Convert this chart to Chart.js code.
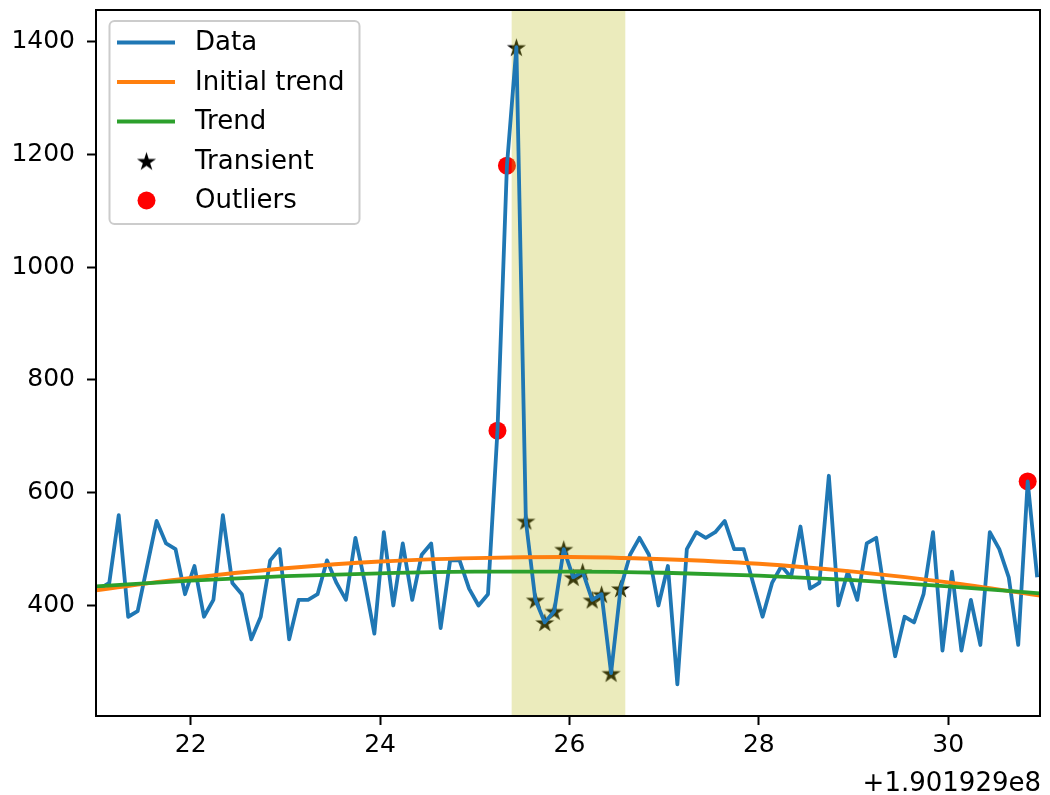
<!DOCTYPE html>
<html>
<head>
<meta charset="utf-8">
<script src="https://cdn.jsdelivr.net/npm/chart.js@4"></script>
<style>
  html, body { margin: 0; padding: 0; background: #fff; overflow: hidden; }
  #wrap { width: 1050px; height: 795px; position: relative; }
</style>
</head>
<body>
<div id="wrap"><canvas id="chart"></canvas></div>
<script>
'use strict';

// Time offsets (s) relative to 1.901929e8
const times = [
  21.04, 21.14, 21.24, 21.34, 21.44, 21.54, 21.64, 21.74, 21.84, 21.94,
  22.04, 22.14, 22.24, 22.34, 22.44, 22.54, 22.64, 22.74, 22.84, 22.94,
  23.04, 23.14, 23.24, 23.34, 23.44, 23.54, 23.64, 23.74, 23.84, 23.94,
  24.04, 24.14, 24.24, 24.34, 24.44, 24.54, 24.64, 24.74, 24.84, 24.94,
  25.04, 25.14, 25.24, 25.34, 25.44, 25.54, 25.64, 25.74, 25.84, 25.94,
  26.04, 26.14, 26.24, 26.34, 26.44, 26.54, 26.64, 26.74, 26.84, 26.94,
  27.04, 27.14, 27.24, 27.34, 27.44, 27.54, 27.64, 27.74, 27.84, 27.94,
  28.04, 28.14, 28.24, 28.34, 28.44, 28.54, 28.64, 28.74, 28.84, 28.94,
  29.04, 29.14, 29.24, 29.34, 29.44, 29.54, 29.64, 29.74, 29.84, 29.94,
  30.04, 30.14, 30.24, 30.34, 30.44, 30.54, 30.64, 30.74, 30.84, 30.94
];

const counts = [
  430, 440, 560, 380, 390, 470, 550, 510, 500, 420,
  470, 380, 410, 560, 440, 420, 340, 380, 480, 500,
  340, 410, 410, 420, 480, 440, 410, 520, 440, 350,
  530, 400, 510, 410, 490, 510, 360, 480, 480, 430,
  400, 420, 710, 1180, 1390, 550, 410, 370, 390, 500,
  450, 460, 410, 420, 280, 430, 490, 520, 490, 400,
  470, 260, 500, 530, 520, 530, 550, 500, 500, 440,
  380, 440, 470, 450, 540, 430, 440, 630, 400, 460,
  410, 510, 520, 410, 310, 380, 370, 420, 530, 320,
  460, 320, 410, 330, 530, 500, 450, 330, 620, 450
];

// Trend curves read at whole seconds
const trendTimes = [21, 22, 23, 24, 25, 26, 27, 28, 29, 30, 31];
const initialTrend = [427, 449, 466, 478, 484, 486, 482, 474, 460, 441, 417];
const finalTrend = [434, 444, 452, 457, 460, 460, 458, 453, 445, 434, 421];

const transientTimes = [25.44, 25.54, 25.64, 25.74, 25.84, 25.94, 26.04, 26.14, 26.24, 26.34, 26.44, 26.54];
const transientCounts = [1390, 550, 410, 370, 390, 500, 450, 460, 410, 420, 280, 430];

const outlierTimes = [25.24, 25.34, 30.84];
const outlierCounts = [710, 1180, 620];

const transientSpan = [25.39, 26.59];

const xTicks = [22, 24, 26, 28, 30];
const yTicks = [400, 600, 800, 1000, 1200, 1400];
const offsetLabel = '+1.901929e8';

const FONT = '"DejaVu Sans", "Liberation Sans", sans-serif';

// filled five point star like matplotlib's '*'
function makeStar(size, color) {
  const c = document.createElement('canvas');
  c.width = size;
  c.height = size;
  const ctx = c.getContext('2d');
  const r = size / 2 - 0.5;
  const ri = r * 0.382;
  ctx.beginPath();
  for (let k = 0; k < 10; k++) {
    const rad = k % 2 === 0 ? r : ri;
    const a = -Math.PI / 2 + k * Math.PI / 5;
    const px = size / 2 + rad * Math.cos(a);
    const py = size / 2 + rad * Math.sin(a) + r * 0.1;
    if (k === 0) ctx.moveTo(px, py); else ctx.lineTo(px, py);
  }
  ctx.closePath();
  ctx.fillStyle = color;
  ctx.fill();
  return c;
}

const starImg = makeStar(21, '#000000');

const toPoints = (xs, ys) => xs.map((x, i) => ({x: x, y: ys[i]}));

// span sits above the scatter markers but under the lines
const spanPlugin = {
  id: 'span',
  beforeDatasetDraw(chart, args) {
    if (chart.data.datasets[args.index].label !== 'Data') return;
    const {ctx, chartArea} = chart;
    const xs = chart.scales.x;
    const x0 = xs.getPixelForValue(transientSpan[0]);
    const x1 = xs.getPixelForValue(transientSpan[1]);
    ctx.save();
    ctx.fillStyle = 'rgba(188, 189, 34, 0.3)';
    ctx.fillRect(x0, chartArea.top, x1 - x0, chartArea.bottom - chartArea.top);
    ctx.restore();
  }
};

// axes box, offset text and matplotlib style legend
const framePlugin = {
  id: 'frame',
  afterDraw(chart) {
    const {ctx, chartArea} = chart;
    ctx.save();
    ctx.strokeStyle = '#000';
    ctx.lineWidth = 2;
    ctx.strokeRect(chartArea.left, chartArea.top,
      chartArea.right - chartArea.left, chartArea.bottom - chartArea.top);

    ctx.fillStyle = '#000';
    ctx.font = '26px ' + FONT;
    ctx.textAlign = 'right';
    ctx.textBaseline = 'alphabetic';
    ctx.fillText(offsetLabel, chartArea.right + 1, 791);

    // legend box
    const bx = 109.5, by = 21, bw = 250, bh = 203, br = 5;
    ctx.beginPath();
    ctx.moveTo(bx + br, by);
    ctx.arcTo(bx + bw, by, bx + bw, by + bh, br);
    ctx.arcTo(bx + bw, by + bh, bx, by + bh, br);
    ctx.arcTo(bx, by + bh, bx, by, br);
    ctx.arcTo(bx, by, bx + bw, by, br);
    ctx.closePath();
    ctx.fillStyle = 'rgba(255, 255, 255, 0.8)';
    ctx.fill();
    ctx.strokeStyle = '#cccccc';
    ctx.lineWidth = 2;
    ctx.stroke();

    const rowY = [42.5, 82, 121.5, 161, 200.5];
    ctx.textAlign = 'left';
    ctx.textBaseline = 'middle';
    chart.data.datasets.forEach((ds, i) => {
      const y = rowY[i];
      if (ds.type === 'line') {
        ctx.beginPath();
        ctx.moveTo(117, y);
        ctx.lineTo(175, y);
        ctx.strokeStyle = ds.borderColor;
        ctx.lineWidth = 3.8;
        ctx.stroke();
      } else if (ds.label === 'Transient') {
        ctx.drawImage(starImg, 146.5 - 10.5, y - 10.5);
      } else {
        ctx.beginPath();
        ctx.arc(146.5, y, 9, 0, Math.PI * 2);
        ctx.fillStyle = ds.backgroundColor;
        ctx.fill();
      }
      ctx.fillStyle = '#000';
      ctx.font = '26px ' + FONT;
      ctx.fillText(ds.label, 195, y + 1);
    });
    ctx.restore();
  }
};

const configuration = {
  type: 'line',
  data: {
    datasets: [
      {
        type: 'line',
        label: 'Data',
        data: toPoints(times, counts),
        borderColor: '#1f77b4',
        borderWidth: 3.8,
        borderJoinStyle: 'round',
        pointRadius: 0,
        tension: 0,
        order: 3
      },
      {
        type: 'line',
        label: 'Initial trend',
        data: toPoints(trendTimes, initialTrend),
        borderColor: '#ff7f0e',
        borderWidth: 3.8,
        pointRadius: 0,
        cubicInterpolationMode: 'monotone',
        order: 2
      },
      {
        type: 'line',
        label: 'Trend',
        data: toPoints(trendTimes, finalTrend),
        borderColor: '#2ca02c',
        borderWidth: 3.8,
        pointRadius: 0,
        cubicInterpolationMode: 'monotone',
        order: 1
      },
      {
        type: 'scatter',
        label: 'Transient',
        data: toPoints(transientTimes, transientCounts),
        pointStyle: starImg,
        pointRadius: 10,
        backgroundColor: '#000',
        borderWidth: 0,
        order: 5
      },
      {
        type: 'scatter',
        label: 'Outliers',
        data: toPoints(outlierTimes, outlierCounts),
        pointStyle: 'circle',
        pointRadius: 9,
        backgroundColor: '#ff0000',
        borderWidth: 0,
        order: 4
      }
    ]
  },
  options: {
    responsive: true,
    maintainAspectRatio: false,
    animation: false,
    layout: {
      padding: {left: 0, top: 8, right: 1, bottom: 0}
    },
    plugins: {
      legend: {display: false},
      tooltip: {enabled: false}
    },
    scales: {
      x: {
        type: 'linear',
        min: 21.0,
        max: 30.97,
        afterBuildTicks: s => { s.ticks = xTicks.map(v => ({value: v})); },
        afterFit: s => {
          s.height = 79;
          s.paddingLeft = 0; s.paddingRight = 0;
          s.paddingTop = 0; s.paddingBottom = 0;
        },
        border: {display: false},
        grid: {
          drawOnChartArea: false,
          drawTicks: true,
          tickLength: 9,
          tickWidth: 2,
          tickColor: '#000'
        },
        ticks: {
          color: '#000',
          font: {family: FONT, size: 25},
          padding: 5,
          maxRotation: 0,
          callback: v => String(v)
        }
      },
      y: {
        type: 'linear',
        min: 204,
        max: 1456,
        afterBuildTicks: s => { s.ticks = yTicks.map(v => ({value: v})); },
        afterFit: s => {
          s.width = 96;
          s.paddingLeft = 0; s.paddingRight = 0;
          s.paddingTop = 0; s.paddingBottom = 0;
        },
        border: {display: false},
        grid: {
          drawOnChartArea: false,
          drawTicks: true,
          tickLength: 9,
          tickWidth: 2,
          tickColor: '#000'
        },
        ticks: {
          color: '#000',
          font: {family: FONT, size: 25},
          padding: 12,
          callback: v => String(v)
        }
      }
    }
  },
  plugins: [spanPlugin, framePlugin]
};

new Chart(document.getElementById('chart'), configuration);
</script>
</body>
</html>
